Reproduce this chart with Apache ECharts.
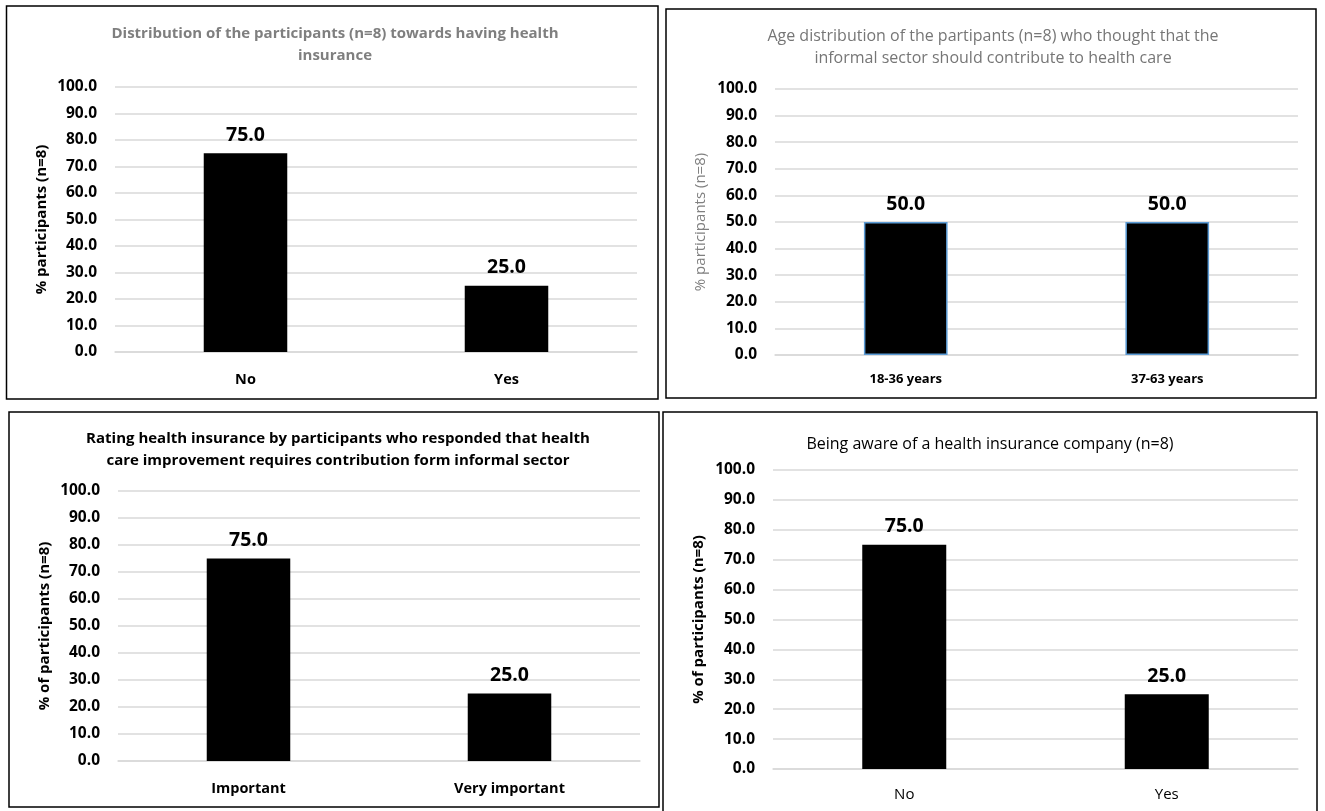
<!DOCTYPE html>
<html>
<head>
<meta charset="utf-8">
<script src="https://cdn.jsdelivr.net/npm/echarts@6/dist/echarts.min.js"></script>
<style>
  html, body { margin: 0; padding: 0; background: #fff; }
  #chart { width: 1325px; height: 811px; }
</style>
</head>
<body>
<div id="chart"></div>
<script>
// Survey results, four panels (percent of participants, n = 8)
const insuranceCategories = ['No', 'Yes'];
const insuranceValues = [75.0, 25.0];

const ageCategories = ['18-36 years', '37-63 years'];
const ageValues = [50.0, 50.0];

const ratingCategories = ['Important', 'Very important'];
const ratingValues = [75.0, 25.0];

const awareCategories = ['No', 'Yes'];
const awareValues = [75.0, 25.0];

const titles = [
  'Distribution of the participants (n=8) towards having health\ninsurance',
  'Age distribution of the partipants (n=8) who thought that the\ninformal sector should contribute to health care',
  'Rating health insurance by participants who responded that health\ncare improvement requires contribution form informal sector',
  'Being aware of a health insurance company (n=8)'
];
const yNames = [
  '% participants (n=8)',
  '% participants (n=8)',
  '% of participants (n=8)',
  '% of participants (n=8)'
];
const yTicks = [0, 10, 20, 30, 40, 50, 60, 70, 80, 90, 100];

const FONT = '"Open Sans", "Noto Sans", sans-serif';
const chart = echarts.init(document.getElementById('chart'), null, { renderer: 'canvas' });

const panels = [
  { cats: insuranceCategories, vals: insuranceValues,
    grid: { left: 115, top: 87, width: 522, height: 265 },
    box: [6.5, 6, 658, 399], titleX: 330, titleY: 18, titleSize: 15,
    titleColor: '#7f7f7f', titleWeight: 'bold',
    yNameColor: '#000', yNameWeight: 'bold', yNameGap: 66,
    xLabelWeight: 'bold', xLabelSize: 14.5, xLabelMargin: 20, barBorder: null },
  { cats: ageCategories, vals: ageValues,
    grid: { left: 775, top: 89, width: 523, height: 266 },
    box: [666, 9, 1316, 398], titleX: 988, titleY: 20, titleSize: 16,
    titleColor: '#767676', titleWeight: 'normal',
    yNameColor: '#7f7f7f', yNameWeight: 'normal', yNameGap: 67,
    xLabelWeight: 'bold', xLabelSize: 13, xLabelMargin: 18, barBorder: '#5b9bd5' },
  { cats: ratingCategories, vals: ratingValues,
    grid: { left: 118, top: 491, width: 522, height: 270 },
    box: [9, 412, 659, 807], titleX: 333, titleY: 423, titleSize: 15,
    titleColor: '#000', titleWeight: 'bold',
    yNameColor: '#000', yNameWeight: 'bold', yNameGap: 66,
    xLabelWeight: 'bold', xLabelSize: 14.5, xLabelMargin: 20, barBorder: null },
  { cats: awareCategories, vals: awareValues,
    grid: { left: 773, top: 470, width: 525, height: 299 },
    box: [663, 412, 1317, 813], titleX: 985, titleY: 428, titleSize: 16,
    titleColor: '#000', titleWeight: 'normal',
    yNameColor: '#000', yNameWeight: 'bold', yNameGap: 67,
    xLabelWeight: 'normal', xLabelSize: 15, xLabelMargin: 18, barBorder: null }
];

const option = {
  animation: false,
  backgroundColor: '#fff',
  title: panels.map((p, i) => ({
    text: titles[i],
    left: p.titleX,
    top: p.titleY,
    textAlign: 'center',
    textStyle: {
      fontFamily: FONT, fontSize: p.titleSize, fontWeight: p.titleWeight,
      color: p.titleColor, lineHeight: 22, align: 'center'
    }
  })),
  grid: panels.map(p => Object.assign({ containLabel: false }, p.grid)),
  xAxis: panels.map((p, i) => ({
    type: 'category', gridIndex: i, data: p.cats,
    axisTick: { show: false },
    axisLine: { lineStyle: { color: '#d9d9d9', width: 1.5 } },
    axisLabel: { color: '#000', fontFamily: FONT, fontSize: p.xLabelSize,
                 fontWeight: p.xLabelWeight, margin: p.xLabelMargin }
  })),
  yAxis: panels.map((p, i) => ({
    type: 'value', gridIndex: i, min: yTicks[0], max: yTicks[yTicks.length - 1],
    interval: yTicks[1] - yTicks[0],
    name: yNames[i], nameLocation: 'middle', nameGap: p.yNameGap,
    nameTextStyle: { fontFamily: FONT, fontSize: 15, fontWeight: p.yNameWeight,
                     color: p.yNameColor },
    axisLine: { show: false }, axisTick: { show: false },
    splitLine: { lineStyle: { color: '#d9d9d9', width: 1.5 } },
    axisLabel: { color: '#000', fontFamily: FONT, fontSize: 15.5, fontWeight: 'bold',
                 margin: 18, formatter: v => v.toFixed(1) }
  })),
  series: panels.map((p, i) => ({
    type: 'bar', xAxisIndex: i, yAxisIndex: i,
    data: p.vals, barWidth: '32%',
    itemStyle: p.barBorder
      ? { color: '#000', borderColor: p.barBorder, borderWidth: 1.5 }
      : { color: '#000' },
    label: {
      show: true, position: 'top', distance: 8,
      fontFamily: FONT, fontSize: 19.5, fontWeight: 'bold', color: '#000',
      formatter: d => d.value.toFixed(1)
    }
  })),
  graphic: panels.map(p => ({
    type: 'rect', silent: true, z: 100,
    shape: { x: p.box[0], y: p.box[1], width: p.box[2] - p.box[0], height: p.box[3] - p.box[1] },
    style: { fill: 'none', stroke: '#000', lineWidth: 1.5 }
  }))
};

chart.setOption(option);
</script>
</body>
</html>
